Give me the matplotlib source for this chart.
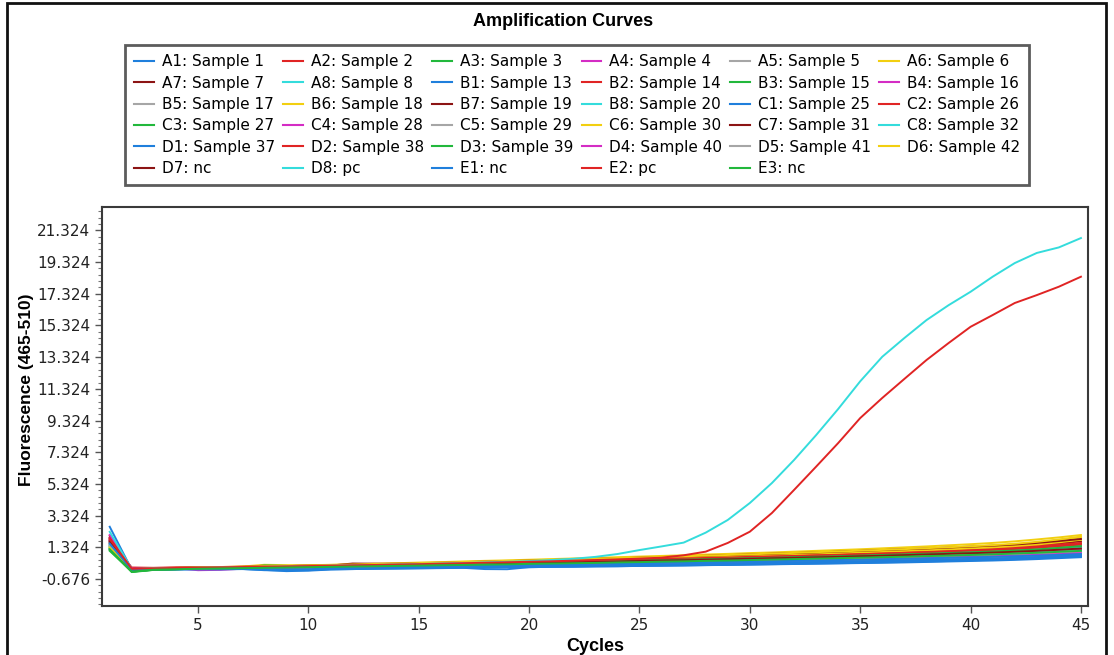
import matplotlib
matplotlib.use("Agg")
import matplotlib.pyplot as plt
from matplotlib.patches import Rectangle
from matplotlib.lines import Line2D
from matplotlib.ticker import AutoMinorLocator, FixedLocator
import numpy as np

# --- data ---
cycles = list(range(1, 46))

wells = ["A1", "A2", "A3", "A4", "A5", "A6", "A7", "A8",
         "B1", "B2", "B3", "B4", "B5", "B6", "B7", "B8",
         "C1", "C2", "C3", "C4", "C5", "C6", "C7", "C8",
         "D1", "D2", "D3", "D4", "D5", "D6", "D7", "D8",
         "E1", "E2", "E3"]
samples = ["Sample 1", "Sample 2", "Sample 3", "Sample 4", "Sample 5", "Sample 6", "Sample 7", "Sample 8",
           "Sample 13", "Sample 14", "Sample 15", "Sample 16", "Sample 17", "Sample 18", "Sample 19", "Sample 20",
           "Sample 25", "Sample 26", "Sample 27", "Sample 28", "Sample 29", "Sample 30", "Sample 31", "Sample 32",
           "Sample 37", "Sample 38", "Sample 39", "Sample 40", "Sample 41", "Sample 42", "nc", "pc",
           "nc", "pc", "nc"]

a1 = [2.62, -0.10, -0.05, -0.04, -0.05, -0.02, 0.00, -0.02, 0.02, 0.04, 0.05, 0.06, 0.09, 0.10, 0.11,
      0.14, 0.15, 0.17, 0.18, 0.21, 0.22, 0.24, 0.26, 0.27, 0.30, 0.31, 0.33, 0.35, 0.37, 0.38,
      0.41, 0.43, 0.44, 0.47, 0.49, 0.51, 0.54, 0.57, 0.59, 0.63, 0.66, 0.70, 0.74, 0.79, 0.85]
a2 = [2.05, -0.02, 0.02, 0.03, 0.02, 0.05, 0.06, 0.08, 0.10, 0.11, 0.14, 0.16, 0.18, 0.20, 0.23,
      0.25, 0.27, 0.30, 0.32, 0.35, 0.38, 0.40, 0.43, 0.46, 0.49, 0.52, 0.55, 0.58, 0.61, 0.64,
      0.68, 0.71, 0.75, 0.78, 0.82, 0.86, 0.90, 0.94, 0.98, 1.03, 1.08, 1.14, 1.22, 1.32, 1.45]
a3 = [1.35, -0.22, -0.08, -0.05, -0.04, -0.02, 0.01, 0.03, 0.04, 0.07, 0.09, 0.12, 0.14, 0.17, 0.19,
      0.22, 0.25, 0.27, 0.30, 0.33, 0.35, 0.38, 0.41, 0.44, 0.46, 0.49, 0.52, 0.55, 0.58, 0.61,
      0.64, 0.67, 0.71, 0.74, 0.78, 0.82, 0.86, 0.90, 0.95, 1.00, 1.05, 1.10, 1.16, 1.23, 1.30]
a4 = [1.85, -0.05, -0.02, 0.00, -0.12, -0.10, -0.03, 0.00, 0.02, 0.05, 0.06, 0.08, 0.10, 0.12, 0.13,
      0.16, 0.18, 0.20, 0.22, 0.25, 0.26, 0.28, 0.31, 0.33, 0.35, 0.37, 0.40, 0.42, 0.44, 0.47,
      0.49, 0.52, 0.54, 0.56, 0.59, 0.62, 0.65, 0.68, 0.72, 0.76, 0.80, 0.85, 0.90, 0.97, 1.05]
a5 = [1.70, -0.08, -0.03, -0.01, 0.01, 0.03, 0.04, 0.06, 0.09, 0.10, 0.13, 0.15, 0.17, 0.19, 0.22,
      0.24, 0.26, 0.29, 0.31, 0.33, 0.36, 0.38, 0.41, 0.43, 0.46, 0.48, 0.51, 0.53, 0.56, 0.59,
      0.62, 0.65, 0.68, 0.71, 0.74, 0.77, 0.81, 0.85, 0.89, 0.93, 0.97, 1.02, 1.07, 1.13, 1.20]
a6 = [1.55, -0.04, 0.01, 0.03, 0.06, 0.08, 0.11, 0.22, 0.20, 0.19, 0.22, 0.25, 0.29, 0.32, 0.36,
      0.39, 0.43, 0.47, 0.50, 0.54, 0.58, 0.62, 0.66, 0.70, 0.74, 0.78, 0.82, 0.87, 0.91, 0.96,
      1.00, 1.05, 1.10, 1.15, 1.20, 1.26, 1.32, 1.38, 1.45, 1.52, 1.60, 1.70, 1.82, 1.95, 2.10]
a7 = [1.95, -0.06, 0.00, 0.02, 0.04, 0.06, 0.08, 0.06, 0.09, 0.12, 0.18, 0.22, 0.24, 0.26, 0.30,
      0.32, 0.35, 0.37, 0.40, 0.42, 0.45, 0.48, 0.50, 0.53, 0.56, 0.59, 0.62, 0.65, 0.68, 0.72,
      0.75, 0.78, 0.82, 0.86, 0.89, 0.93, 0.97, 1.02, 1.06, 1.11, 1.16, 1.23, 1.32, 1.43, 1.55]
a8 = [1.25, -0.18, -0.05, -0.02, 0.00, 0.02, 0.04, 0.05, 0.07, 0.09, 0.11, 0.13, 0.15, 0.17, 0.20,
      0.22, 0.24, 0.27, 0.29, 0.31, 0.34, 0.36, 0.39, 0.41, 0.44, 0.46, 0.49, 0.52, 0.55, 0.58,
      0.61, 0.64, 0.67, 0.70, 0.73, 0.76, 0.80, 0.84, 0.88, 0.92, 0.97, 1.02, 1.07, 1.16, 1.25]
b1 = [1.45, -0.12, -0.07, -0.08, -0.06, -0.07, -0.05, -0.10, -0.18, -0.15, -0.08, -0.05, -0.03, -0.01, 0.00,
      0.02, 0.03, -0.05, -0.06, 0.07, 0.09, 0.10, 0.12, 0.13, 0.15, 0.17, 0.18, 0.20, 0.22, 0.24,
      0.26, 0.28, 0.30, 0.32, 0.34, 0.37, 0.40, 0.43, 0.46, 0.50, 0.54, 0.58, 0.63, 0.69, 0.75]
b2 = [1.60, 0.05, 0.03, 0.04, 0.05, 0.07, 0.08, 0.10, 0.11, 0.13, 0.15, 0.17, 0.19, 0.21, 0.23,
      0.26, 0.28, 0.30, 0.33, 0.35, 0.37, 0.40, 0.42, 0.45, 0.48, 0.50, 0.53, 0.56, 0.59, 0.62,
      0.65, 0.68, 0.71, 0.74, 0.78, 0.81, 0.85, 0.89, 0.93, 0.98, 1.03, 1.09, 1.15, 1.25, 1.35]
b3 = [1.10, -0.20, -0.10, -0.06, -0.02, 0.01, 0.04, 0.18, 0.15, 0.12, 0.13, 0.16, 0.19, 0.21, 0.24,
      0.27, 0.30, 0.33, 0.36, 0.39, 0.42, 0.45, 0.48, 0.51, 0.54, 0.57, 0.61, 0.64, 0.67, 0.71,
      0.74, 0.78, 0.82, 0.85, 0.89, 0.93, 0.97, 1.02, 1.06, 1.11, 1.16, 1.22, 1.29, 1.39, 1.50]
b4 = [2.10, -0.03, 0.00, 0.01, 0.02, 0.03, 0.05, 0.07, 0.08, 0.10, 0.12, 0.14, 0.16, 0.18, 0.20,
      0.22, 0.24, 0.26, 0.28, 0.30, 0.33, 0.35, 0.37, 0.40, 0.42, 0.45, 0.47, 0.50, 0.52, 0.55,
      0.58, 0.61, 0.64, 0.67, 0.70, 0.73, 0.76, 0.80, 0.84, 0.88, 0.92, 0.97, 1.02, 1.08, 1.15]
b5 = [1.30, -0.14, -0.06, -0.04, -0.03, -0.01, 0.00, 0.02, 0.03, 0.05, 0.07, 0.08, 0.10, 0.12, 0.14,
      0.16, 0.18, 0.19, 0.21, 0.23, 0.25, 0.27, 0.29, 0.31, 0.33, 0.35, 0.37, 0.40, 0.42, 0.44,
      0.46, 0.49, 0.51, 0.54, 0.56, 0.59, 0.62, 0.65, 0.68, 0.71, 0.74, 0.78, 0.83, 0.89, 0.95]
b6 = [1.40, -0.09, -0.02, 0.01, 0.03, 0.05, 0.08, 0.10, 0.13, 0.15, 0.18, 0.21, 0.24, 0.27, 0.30,
      0.34, 0.37, 0.40, 0.44, 0.47, 0.50, 0.54, 0.58, 0.61, 0.65, 0.69, 0.73, 0.77, 0.81, 0.85,
      0.89, 0.94, 0.98, 1.03, 1.08, 1.13, 1.18, 1.23, 1.29, 1.35, 1.42, 1.50, 1.62, 1.78, 1.95]
b7 = [1.75, -0.11, -0.04, -0.01, 0.02, 0.04, 0.07, 0.09, 0.12, 0.14, 0.17, 0.30, 0.29, 0.28, 0.30,
      0.33, 0.36, 0.39, 0.42, 0.45, 0.48, 0.51, 0.55, 0.58, 0.61, 0.65, 0.68, 0.72, 0.75, 0.79,
      0.83, 0.87, 0.91, 0.95, 0.99, 1.04, 1.08, 1.13, 1.18, 1.23, 1.29, 1.36, 1.45, 1.57, 1.70]
b8 = [1.50, -0.15, -0.07, -0.04, -0.02, 0.00, 0.02, 0.03, 0.05, 0.07, 0.09, 0.11, 0.13, 0.15, 0.17,
      0.19, 0.21, 0.23, 0.25, 0.27, 0.30, 0.32, 0.34, 0.37, 0.39, 0.42, 0.44, 0.47, 0.49, 0.52,
      0.55, 0.58, 0.61, 0.64, 0.67, 0.70, 0.73, 0.77, 0.81, 0.85, 0.89, 0.94, 0.99, 1.04, 1.10]
c1 = [1.20, -0.16, -0.09, -0.07, -0.06, -0.05, -0.04, -0.12, -0.14, -0.12, -0.06, -0.05, -0.03, -0.02, 0.00,
      0.01, 0.03, 0.04, 0.06, 0.07, 0.09, 0.10, 0.12, 0.13, 0.15, 0.16, 0.18, 0.20, 0.21, 0.23,
      0.25, 0.27, 0.29, 0.31, 0.33, 0.35, 0.37, 0.40, 0.43, 0.46, 0.49, 0.53, 0.58, 0.64, 0.70]
c2 = [1.65, -0.05, 0.01, 0.03, 0.05, 0.07, 0.09, 0.11, 0.14, 0.16, 0.18, 0.21, 0.23, 0.26, 0.29,
      0.31, 0.34, 0.37, 0.40, 0.43, 0.46, 0.49, 0.52, 0.55, 0.58, 0.62, 0.65, 0.68, 0.72, 0.76,
      0.79, 0.83, 0.87, 0.91, 0.95, 1.00, 1.04, 1.09, 1.14, 1.19, 1.25, 1.32, 1.40, 1.50, 1.60]
c3 = [1.15, -0.24, -0.10, -0.06, -0.03, -0.01, 0.01, 0.03, 0.05, 0.07, 0.09, 0.11, 0.13, 0.15, 0.18,
      0.20, 0.22, 0.24, 0.27, 0.29, 0.31, 0.34, 0.36, 0.39, 0.41, 0.44, 0.46, 0.49, 0.52, 0.55,
      0.58, 0.61, 0.64, 0.67, 0.70, 0.73, 0.77, 0.81, 0.85, 0.89, 0.93, 0.98, 1.04, 1.12, 1.20]
c4 = [1.90, -0.02, 0.00, 0.02, 0.03, 0.05, 0.07, 0.09, 0.11, 0.13, 0.15, 0.17, 0.19, 0.21, 0.24,
      0.26, 0.28, 0.30, 0.33, 0.35, 0.37, 0.40, 0.42, 0.45, 0.47, 0.50, 0.53, 0.56, 0.58, 0.61,
      0.64, 0.67, 0.70, 0.74, 0.77, 0.80, 0.84, 0.88, 0.92, 0.96, 1.00, 1.05, 1.10, 1.17, 1.25]
c5 = [1.50, -0.07, -0.01, 0.01, 0.03, 0.05, 0.07, 0.09, 0.11, 0.13, 0.15, 0.18, 0.20, 0.22, 0.25,
      0.27, 0.30, 0.32, 0.35, 0.37, 0.40, 0.43, 0.45, 0.48, 0.51, 0.54, 0.57, 0.60, 0.63, 0.66,
      0.69, 0.72, 0.76, 0.79, 0.83, 0.86, 0.90, 0.94, 0.98, 1.03, 1.08, 1.14, 1.21, 1.30, 1.40]
c6 = [1.35, -0.10, -0.03, 0.00, 0.03, 0.05, 0.07, 0.10, 0.12, 0.15, 0.17, 0.20, 0.23, 0.26, 0.29,
      0.32, 0.35, 0.38, 0.41, 0.44, 0.48, 0.51, 0.54, 0.58, 0.61, 0.65, 0.68, 0.72, 0.76, 0.80,
      0.84, 0.88, 0.92, 0.96, 1.01, 1.05, 1.10, 1.15, 1.20, 1.26, 1.32, 1.40, 1.50, 1.64, 1.80]
c7 = [1.80, -0.08, -0.02, 0.01, 0.04, 0.06, 0.09, 0.11, 0.14, 0.17, 0.20, 0.23, 0.26, 0.29, 0.32,
      0.35, 0.39, 0.42, 0.45, 0.49, 0.52, 0.56, 0.60, 0.63, 0.67, 0.71, 0.75, 0.79, 0.83, 0.87,
      0.92, 0.96, 1.00, 1.05, 1.10, 1.15, 1.20, 1.25, 1.31, 1.37, 1.43, 1.50, 1.60, 1.72, 1.85]
c8 = [1.40, -0.13, -0.05, -0.02, 0.00, 0.02, 0.04, 0.06, 0.08, 0.10, 0.12, 0.14, 0.16, 0.19, 0.21,
      0.23, 0.25, 0.28, 0.30, 0.33, 0.35, 0.38, 0.40, 0.43, 0.45, 0.48, 0.51, 0.54, 0.57, 0.60,
      0.63, 0.66, 0.69, 0.72, 0.76, 0.79, 0.83, 0.87, 0.91, 0.95, 1.00, 1.05, 1.11, 1.20, 1.30]
d1 = [1.60, -0.11, -0.06, -0.05, -0.04, -0.02, -0.01, 0.00, -0.08, -0.06, 0.00, 0.03, 0.04, 0.06, 0.07,
      0.09, 0.10, 0.12, 0.13, 0.15, 0.16, 0.18, 0.19, 0.21, 0.23, 0.24, 0.26, 0.28, 0.30, 0.32,
      0.34, 0.36, 0.38, 0.40, 0.42, 0.44, 0.47, 0.50, 0.53, 0.56, 0.59, 0.63, 0.68, 0.74, 0.80]
d2 = [1.90, -0.04, 0.02, 0.04, 0.06, 0.08, 0.10, 0.12, 0.14, 0.16, 0.18, 0.21, 0.23, 0.26, 0.28,
      0.31, 0.33, 0.36, 0.39, 0.42, 0.44, 0.47, 0.50, 0.53, 0.56, 0.59, 0.62, 0.65, 0.68, 0.72,
      0.75, 0.78, 0.82, 0.85, 0.89, 0.93, 0.97, 1.01, 1.06, 1.11, 1.16, 1.22, 1.30, 1.40, 1.50]
d3 = [1.25, -0.19, -0.08, -0.05, -0.02, 0.00, 0.02, 0.05, 0.07, 0.09, 0.12, 0.14, 0.16, 0.19, 0.21,
      0.24, 0.26, 0.29, 0.31, 0.34, 0.37, 0.39, 0.42, 0.45, 0.48, 0.51, 0.54, 0.57, 0.60, 0.63,
      0.66, 0.70, 0.73, 0.76, 0.80, 0.84, 0.88, 0.92, 0.96, 1.01, 1.06, 1.12, 1.19, 1.29, 1.40]
d4 = [1.75, -0.06, -0.03, -0.02, -0.01, 0.01, 0.02, 0.04, 0.05, 0.07, 0.09, 0.10, 0.12, 0.14, 0.16,
      0.17, 0.19, 0.21, 0.23, 0.25, 0.27, 0.29, 0.31, 0.33, 0.35, 0.37, 0.39, 0.42, 0.44, 0.46,
      0.49, 0.51, 0.54, 0.56, 0.59, 0.62, 0.64, 0.67, 0.70, 0.73, 0.76, 0.80, 0.84, 0.89, 0.95]
d5 = [1.45, -0.09, -0.04, -0.02, 0.00, 0.02, 0.03, 0.05, 0.07, 0.09, 0.10, 0.12, 0.14, 0.16, 0.18,
      0.20, 0.22, 0.24, 0.26, 0.28, 0.31, 0.33, 0.35, 0.37, 0.40, 0.42, 0.45, 0.47, 0.50, 0.52,
      0.55, 0.58, 0.61, 0.63, 0.66, 0.69, 0.73, 0.76, 0.80, 0.84, 0.88, 0.92, 0.97, 1.03, 1.10]
d6 = [1.30, -0.07, -0.01, 0.02, 0.05, 0.07, 0.10, 0.13, 0.15, 0.18, 0.21, 0.24, 0.27, 0.30, 0.33,
      0.37, 0.40, 0.43, 0.47, 0.50, 0.54, 0.57, 0.61, 0.65, 0.68, 0.72, 0.76, 0.80, 0.84, 0.88,
      0.93, 0.97, 1.02, 1.06, 1.11, 1.16, 1.21, 1.27, 1.33, 1.39, 1.46, 1.55, 1.67, 1.82, 2.00]
d7 = [1.70, -0.12, -0.05, -0.02, 0.01, 0.03, 0.05, 0.07, 0.09, 0.11, 0.13, 0.15, 0.17, 0.19, 0.22,
      0.24, 0.26, 0.28, 0.31, 0.33, 0.36, 0.38, 0.41, 0.43, 0.46, 0.49, 0.51, 0.54, 0.57, 0.60,
      0.63, 0.66, 0.69, 0.72, 0.76, 0.79, 0.83, 0.87, 0.91, 0.95, 0.99, 1.04, 1.10, 1.17, 1.25]
d8 = [2.30, -0.05, 0.00, 0.02, 0.03, 0.05, 0.07, 0.09, 0.11, 0.14, 0.16, 0.19, 0.21, 0.24, 0.27,
      0.30, 0.33, 0.37, 0.41, 0.45, 0.52, 0.60, 0.72, 0.90, 1.15, 1.38, 1.62, 2.25, 3.05, 4.12,
      5.38, 6.83, 8.40, 10.05, 11.80, 13.35, 14.53, 15.66, 16.60, 17.45, 18.40, 19.26, 19.90, 20.25, 20.84]
e1 = [1.55, -0.10, -0.05, -0.03, -0.02, 0.00, 0.01, 0.03, 0.04, 0.06, 0.07, 0.09, 0.10, 0.12, 0.14,
      0.15, 0.17, 0.19, 0.20, 0.22, 0.24, 0.26, 0.28, 0.30, 0.32, 0.34, 0.36, 0.38, 0.40, 0.42,
      0.44, 0.47, 0.49, 0.52, 0.54, 0.57, 0.60, 0.63, 0.66, 0.69, 0.72, 0.76, 0.80, 0.85, 0.90]
e2 = [1.85, -0.03, 0.00, 0.02, 0.04, 0.06, 0.08, 0.10, 0.12, 0.14, 0.17, 0.19, 0.21, 0.24, 0.26,
      0.29, 0.32, 0.35, 0.38, 0.41, 0.44, 0.48, 0.52, 0.56, 0.61, 0.67, 0.82, 1.05, 1.60, 2.31,
      3.49, 4.94, 6.41, 7.90, 9.48, 10.75, 11.95, 13.14, 14.21, 15.24, 15.98, 16.74, 17.24, 17.77, 18.40]
e3 = [1.20, -0.21, -0.09, -0.06, -0.03, -0.01, 0.01, 0.03, 0.05, 0.07, 0.09, 0.11, 0.13, 0.15, 0.17,
      0.19, 0.21, 0.23, 0.25, 0.28, 0.30, 0.32, 0.34, 0.37, 0.39, 0.42, 0.44, 0.47, 0.49, 0.52,
      0.55, 0.58, 0.61, 0.64, 0.67, 0.70, 0.73, 0.77, 0.80, 0.84, 0.88, 0.93, 0.98, 1.04, 1.10]

curves = [a1, a2, a3, a4, a5, a6, a7, a8,
          b1, b2, b3, b4, b5, b6, b7, b8,
          c1, c2, c3, c4, c5, c6, c7, c8,
          d1, d2, d3, d4, d5, d6, d7, d8,
          e1, e2, e3]

# instrument colour cycle: blue, red, green, magenta, gray, yellow, dark red, cyan
palette = ["#1f7fdc", "#e02424", "#22b83c", "#d42cc4", "#a6a6a6", "#f2cf10", "#8c1414", "#34dcdc"]

y_ticks = [-0.676 + 2 * k for k in range(12)]
x_ticks = [5, 10, 15, 20, 25, 30, 35, 40, 45]


def plot_amplification():
    for c in curves:
        assert len(c) == len(cycles)

    fig = plt.figure(figsize=(11.14, 6.55), dpi=100)

    # outer frame round the whole picture
    fig.patches.append(Rectangle((7 / 1114, -0.02), 1099 / 1114, 1 - 3 / 655 + 0.02,
                                 transform=fig.transFigure, fill=False,
                                 edgecolor="#111111", linewidth=2))

    fig.text(0.505, 1 - 21 / 655, "Amplification Curves", ha="center", va="center",
             fontsize=13, fontweight="bold", family="Liberation Sans")

    ax = fig.add_axes([102 / 1114, 1 - 606 / 655, 986 / 1114, 399 / 655])

    handles = []
    for i, (w, s, y) in enumerate(zip(wells, samples, curves)):
        col = palette[i % len(palette)]
        ax.plot(cycles, y, color=col, linewidth=1.4)
        handles.append(Line2D([], [], color=col, linewidth=1.5, label=f"{w}: {s}"))

    ax.set_xlim(0.65, 45.32)
    ax.set_ylim(-2.38, 22.8)
    ax.xaxis.set_major_locator(FixedLocator(x_ticks))
    ax.yaxis.set_major_locator(FixedLocator(y_ticks))
    ax.set_yticklabels([f"{v:.3f}" for v in y_ticks])
    ax.yaxis.set_minor_locator(AutoMinorLocator(5))

    for sp in ax.spines.values():
        sp.set_color("#3a3a3a")
        sp.set_linewidth(1.5)
    ax.tick_params(axis="both", which="major", direction="out", length=5, width=1,
                   color="#555555", labelsize=11, labelcolor="#222222")
    ax.tick_params(axis="y", which="minor", direction="out", length=3, width=0.8, color="#777777")

    ax.set_xlabel("Cycles", fontsize=13, fontweight="bold", family="Liberation Sans", labelpad=4)
    fig.text(27 / 1114, 1 - 390 / 655, "Fluorescence (465-510)", rotation=90, ha="center",
             va="center", fontsize=12.5, fontweight="bold", family="Liberation Sans")

    # legend is filled row by row in the reference, matplotlib fills columns
    ncol = 6
    order = [r * ncol + c for c in range(ncol) for r in range(6) if r * ncol + c < len(handles)]
    leg = fig.legend([handles[k] for k in order], [handles[k].get_label() for k in order],
                     ncol=ncol, loc="upper left", bbox_to_anchor=(125 / 1114, 1 - 45 / 655),
                     fontsize=11, frameon=True, fancybox=False, borderpad=0.6,
                     handlelength=1.3, handletextpad=0.5, columnspacing=0.55,
                     labelspacing=0.42, borderaxespad=0)
    leg.get_frame().set_edgecolor("#333333")
    leg.get_frame().set_linewidth(2)

    fig.savefig("out.png", dpi=100)


if __name__ == "__main__":
    plot_amplification()
